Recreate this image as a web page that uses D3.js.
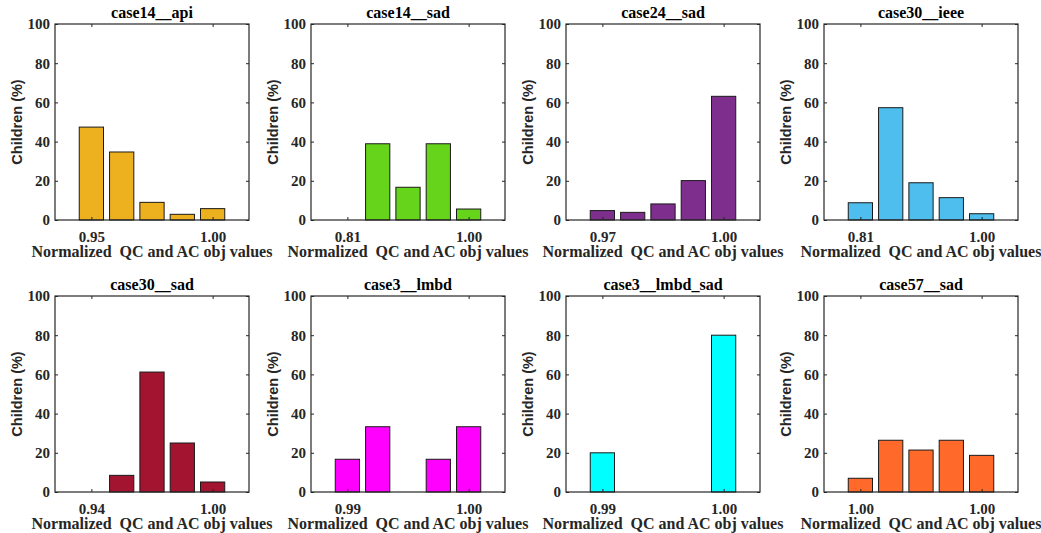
<!DOCTYPE html>
<html>
<head>
<meta charset="utf-8">
<script src="https://cdn.jsdelivr.net/npm/d3@7"></script>
<style>
  body { margin: 0; background: #fff; }
</style>
</head>
<body>
<div id="chart"></div>
<script>
// panel data
const titles = ["case14__api", "case14__sad", "case24__sad", "case30__ieee",
                "case30__sad", "case3__lmbd", "case3__lmbd_sad", "case57__sad"];
const colors = ["#EDB120", "#66D41A", "#7E2F8E", "#4DBEEE",
                "#A2142F", "#FF00FF", "#00FFFF", "#FF6A2A"];
const binPos = [1, 2, 3, 4, 5];
const values = [
  [47.4, 34.7, 9.0, 2.9, 5.8],
  [0, 38.9, 16.7, 38.9, 5.6],
  [4.8, 3.9, 8.2, 20.1, 63.1],
  [8.8, 57.3, 19.0, 11.4, 3.2],
  [0, 8.5, 61.2, 25.0, 5.1],
  [16.7, 33.3, 0, 16.7, 33.3],
  [20.0, 0, 0, 0, 80.0],
  [7.0, 26.4, 21.4, 26.4, 18.7]
];
const xTickPos = [1, 5];
const xTickLabels = [
  ["0.95", "1.00"], ["0.81", "1.00"], ["0.97", "1.00"], ["0.81", "1.00"],
  ["0.94", "1.00"], ["0.99", "1.00"], ["0.99", "1.00"], ["1.00", "1.00"]
];
const yTicks = [0, 20, 40, 60, 80, 100];

const svg = d3.select("#chart")
  .append("svg")
  .attr("width", 1041)
  .attr("height", 533);

const lefts = [55, 311, 566, 824];
const tops = [24, 296];
const w = 194, h = 196;
const axisColor = "#262626";
const serif = "Liberation Serif, DejaVu Serif, serif";
const sans = "Liberation Sans, Arial, sans-serif";

titles.forEach(function (title, i) {
  const col = i % 4, row = Math.floor(i / 4);
  const g = svg.append("g")
    .attr("transform", "translate(" + lefts[col] + "," + tops[row] + ")");

  const x = d3.scaleLinear().domain([-0.2, 6.2]).range([0, w]);
  const y = d3.scaleLinear().domain([0, 100]).range([h, 0]);
  const bw = x(0.8) - x(0);

  // bars
  g.selectAll("rect.bar")
    .data(values[i])
    .enter()
    .append("rect")
    .attr("class", "bar")
    .attr("x", function (d, j) { return x(binPos[j]) - bw / 2; })
    .attr("y", function (d) { return y(d); })
    .attr("width", bw)
    .attr("height", function (d) { return h - y(d); })
    .attr("fill", colors[i])
    .attr("stroke", "#1a1a1a")
    .attr("stroke-width", 1);

  // axes (ticks inside, on all four sides)
  const xAxis = d3.axisBottom(x).tickValues(xTickPos)
    .tickFormat(function (d, k) { return xTickLabels[i][k]; })
    .tickSizeInner(-3).tickSizeOuter(0).tickPadding(11);
  const yAxis = d3.axisLeft(y).tickValues(yTicks)
    .tickSizeInner(-3).tickSizeOuter(0).tickPadding(5);
  const xTop = d3.axisTop(x).tickValues(xTickPos).tickFormat("")
    .tickSizeInner(-3).tickSizeOuter(0);
  const yRight = d3.axisRight(y).tickValues(yTicks).tickFormat("")
    .tickSizeInner(-3).tickSizeOuter(0);

  const gx = g.append("g").attr("transform", "translate(0," + h + ")").call(xAxis);
  const gy = g.append("g").call(yAxis);
  g.append("g").call(xTop);
  g.append("g").attr("transform", "translate(" + w + ",0)").call(yRight);
  g.selectAll(".domain").remove();
  g.selectAll(".tick line").attr("stroke", axisColor);
  [gx, gy].forEach(function (ax) {
    ax.attr("font-family", serif).attr("font-size", 15).attr("font-weight", "bold");
    ax.selectAll("text").attr("fill", axisColor);
  });

  // box
  g.append("rect")
    .attr("x", 0).attr("y", 0).attr("width", w).attr("height", h)
    .attr("fill", "none").attr("stroke", axisColor).attr("stroke-width", 1.2);

  // labels
  g.append("text")
    .attr("x", w / 2).attr("y", -6)
    .attr("text-anchor", "middle")
    .attr("font-family", serif).attr("font-weight", "bold").attr("font-size", 16)
    .attr("fill", "#000")
    .text(title);
  g.append("text")
    .attr("x", w / 2).attr("y", h + 37)
    .attr("text-anchor", "middle")
    .attr("font-family", serif).attr("font-weight", "bold").attr("font-size", 16)
    .style("white-space", "pre")
    .attr("fill", axisColor)
    .text("Normalized  QC and AC obj values");
  g.append("text")
    .attr("transform", "translate(-33," + h / 2 + ") rotate(-90)")
    .attr("text-anchor", "middle")
    .attr("font-family", sans).attr("font-weight", "bold").attr("font-size", 14.5)
    .attr("fill", axisColor)
    .text("Children (%)");
});
</script>
</body>
</html>
